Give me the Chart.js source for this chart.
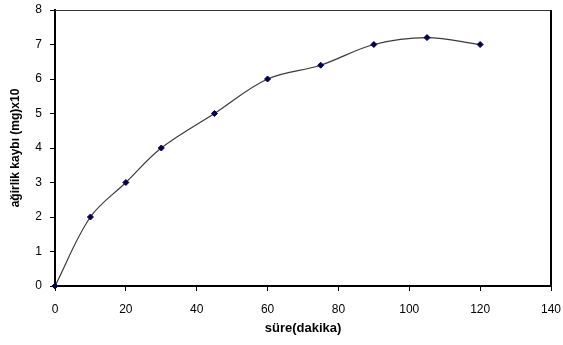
<!DOCTYPE html>
<html>
<head>
<meta charset="utf-8">
<script src="https://cdn.jsdelivr.net/npm/chart.js@4"></script>
<style>
  html, body { margin: 0; padding: 0; background: #fff; }
  #wrap { width: 563px; height: 345px; position: relative; }
</style>
</head>
<body>
<div id="wrap"><canvas id="c"></canvas></div>
<script>
// time (minutes) and weight loss (mg x10)
const times = [0, 10, 20, 30, 45, 60, 75, 90, 105, 120];
const losses = [0, 2, 3, 4, 5, 6, 6.4, 7, 7.2, 7];
const xTicks = [0, 20, 40, 60, 80, 100, 120, 140];
const yTicks = [0, 1, 2, 3, 4, 5, 6, 7, 8];

const FONT = 'Arial, "Liberation Sans", sans-serif';

// plot frame: thin top, thick right like the excel plot area
const framePlugin = {
    id: 'frame',
    afterDatasetsDraw(chart) {
        const { ctx, chartArea: a } = chart;
        ctx.save();
        ctx.strokeStyle = '#333';
        ctx.lineWidth = 1;
        ctx.beginPath();
        ctx.moveTo(a.left, a.top + 0.5);
        ctx.lineTo(a.right, a.top + 0.5);
        ctx.stroke();
        ctx.strokeStyle = '#000';
        ctx.lineWidth = 2;
        ctx.beginPath();
        ctx.moveTo(a.right, a.top);
        ctx.lineTo(a.right, a.bottom);
        ctx.stroke();
        ctx.restore();
    }
};

// keep the plot area fixed: no extra label padding from the scales
function noPad(s) {
    s.paddingTop = 0;
    s.paddingBottom = 0;
    s.paddingLeft = 0;
    s.paddingRight = 0;
}

new Chart(document.getElementById('c'), {
    type: 'scatter',
    data: {
        datasets: [{
            data: times.map((t, i) => ({ x: t, y: losses[i] })),
            showLine: true,
            borderColor: '#3a3a3a',
            borderWidth: 1.2,
            tension: 0.35,
            pointStyle: 'rectRot',
            pointRadius: 3,
            pointBackgroundColor: '#000050',
            pointBorderColor: '#000050',
            pointBorderWidth: 1,
            clip: false,
        }],
    },
    options: {
        responsive: true,
        maintainAspectRatio: false,
        animation: false,
        layout: { padding: { top: 10, right: 12, bottom: 9, left: 0 } },
        plugins: {
            legend: { display: false },
            tooltip: { enabled: false },
        },
        scales: {
            x: {
                type: 'linear',
                min: 0, max: 140,
                afterBuildTicks: s => { s.ticks = xTicks.map(v => ({ value: v })); },
                afterFit: s => { s.height = 50; noPad(s); },
                border: { display: true, color: '#000', width: 2 },
                grid: { drawOnChartArea: false, drawTicks: true, tickLength: 5, color: '#000' },
                ticks: { color: '#000', font: { family: FONT, size: 12 }, padding: 11, maxRotation: 0 },
                title: {
                    display: true, text: 'süre(dakika)', color: '#000',
                    font: { family: FONT, size: 13, weight: 'bold' }, padding: { top: 0, bottom: 0 },
                },
            },
            y: {
                min: 0, max: 8,
                afterBuildTicks: s => { s.ticks = yTicks.map(v => ({ value: v })); },
                afterFit: s => { s.width = 55; noPad(s); },
                border: { display: true, color: '#000', width: 2 },
                grid: { drawOnChartArea: false, drawTicks: true, tickLength: 5, color: '#000' },
                ticks: { color: '#000', font: { family: FONT, size: 12 }, padding: 8 },
                title: {
                    display: true, text: 'ağirlik kaybı (mg)x10', color: '#000',
                    font: { family: FONT, size: 12, weight: 'bold' }, padding: { top: 8, bottom: 0 },
                },
            },
        },
    },
    plugins: [framePlugin],
});
</script>
</body>
</html>
